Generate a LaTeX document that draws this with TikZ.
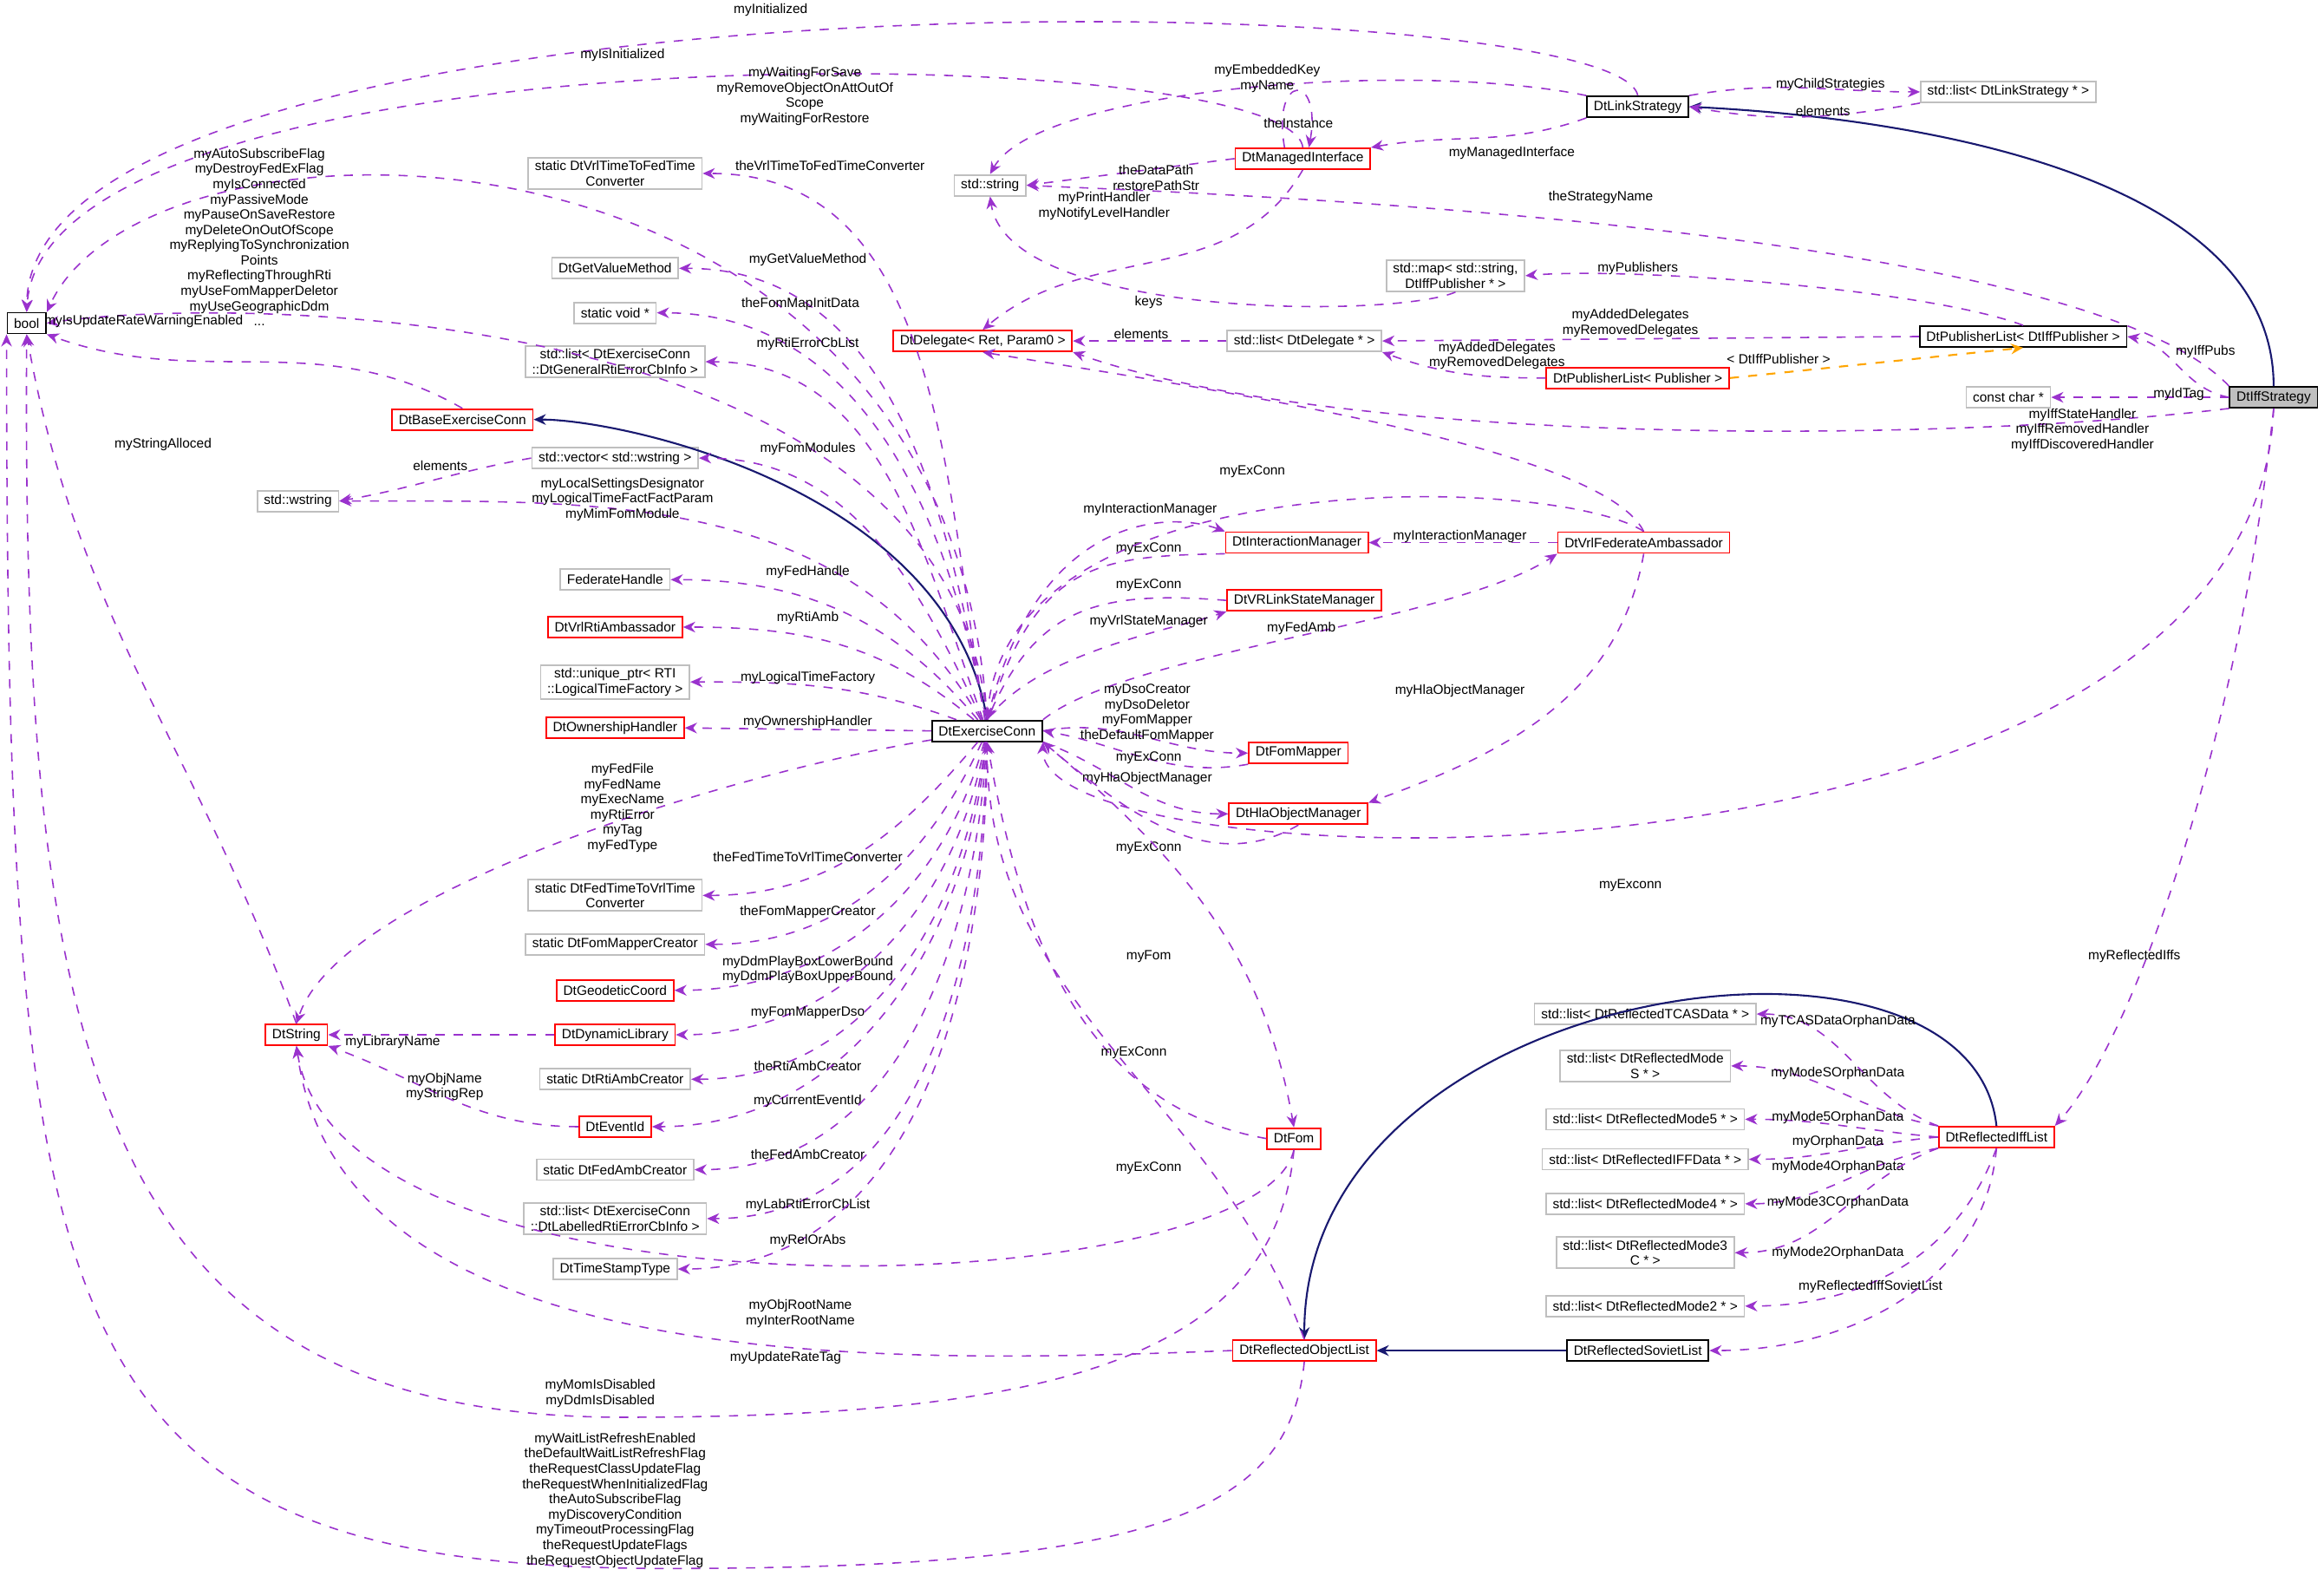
\documentclass[tikz,border=0pt]{standalone}
\usepackage{fontspec}
\setmainfont{Liberation Sans}
\usetikzlibrary{arrows.meta}
\definecolor{usecol}{HTML}{9A32CD}
\definecolor{inhcol}{HTML}{191970}
\definecolor{tplcol}{HTML}{FFA500}
\definecolor{grybox}{HTML}{BFBFBF}
\begin{document}
\begin{tikzpicture}[
    x=0.01709cm, y=-0.01709cm,
    font=\fontsize{4.4}{5.0}\selectfont,
    box/.style={draw,rectangle,inner xsep=2.2pt,inner ysep=1pt,minimum height=0.24cm,align=center,line width=0.5pt},
    blk/.style={box,draw=black},
    red/.style={box,draw=red},
    gry/.style={box,draw=grybox},
    lbl/.style={align=center,inner sep=0pt},
    use/.style={-{Stealth[length=4pt,width=3.5pt]},usecol,dashed,line width=0.45pt},
    inh/.style={-{Stealth[length=4pt,width=3.5pt]},inhcol,line width=0.6pt},
    tpl/.style={-{Stealth[length=4pt,width=3.5pt]},tplcol,dashed,line width=0.6pt}
    ]
    \useasboundingbox (0,0) rectangle (1568,1063);

    % classes
    \node (bool) [blk] at (18,218) {bool};
    \node (linkstr) [blk] at (1105,72) {DtLinkStrategy};
    \node (listlink) [gry] at (1355,62) {std::list< DtLinkStrategy * >};
    \node (mgdif) [red] at (879,107) {DtManagedInterface};
    \node (stdstr) [gry] at (668,125) {std::string};
    \node (vrl2fed) [gry] at (415,117) {static DtVrlTimeToFedTime\\Converter};
    \node (getval) [gry] at (415,181) {DtGetValueMethod};
    \node (voidp) [gry] at (415,211) {static void *};
    \node (genlist) [gry] at (415,244) {std::list< DtExerciseConn\\::DtGeneralRtiErrorCbInfo >};
    \node (baseec) [red] at (312,283) {DtBaseExerciseConn};
    \node (stdmap) [gry] at (982,186) {std::map< std::string,\\DtIffPublisher * >};
    \node (dlg) [red] at (663,230) {DtDelegate< Ret, Param0 >};
    \node (listdlg) [gry] at (880,230) {std::list< DtDelegate * >};
    \node (publiff) [blk] at (1365,227) {DtPublisherList< DtIffPublisher >};
    \node (pubpub) [red] at (1105,255) {DtPublisherList< Publisher >};
    \node (cchar) [gry] at (1355,268) {const char *};
    \node (iffstr) [blk,fill=grybox] at (1534,268) {DtIffStrategy};
    \node (vecws) [gry] at (415,309) {std::vector< std::wstring >};
    \node (wstr) [gry] at (201,338) {std::wstring};
    \node (intmgr) [red] at (875,366) {DtInteractionManager};
    \node (vrlfa) [red] at (1109,366) {DtVrlFederateAmbassador};
    \node (fedh) [gry] at (415,391) {FederateHandle};
    \node (vrlsm) [red] at (880,405) {DtVRLinkStateManager};
    \node (rtiamb) [red] at (415,423) {DtVrlRtiAmbassador};
    \node (uptr) [gry] at (415,460) {std::unique\_ptr< RTI\\::LogicalTimeFactory >};
    \node (ownh) [red] at (415,491) {DtOwnershipHandler};
    \node (ec) [blk] at (666,493) {DtExerciseConn};
    \node (fommap) [red] at (876,508) {DtFomMapper};
    \node (hlaom) [red] at (876,549) {DtHlaObjectManager};
    \node (fed2vrl) [gry] at (415,604) {static DtFedTimeToVrlTime\\Converter};
    \node (fmcreat) [gry] at (415,637) {static DtFomMapperCreator};
    \node (geod) [red] at (415,668) {DtGeodeticCoord};
    \node (dynlib) [red] at (415,698) {DtDynamicLibrary};
    \node (dtstr) [red] at (200,698) {DtString};
    \node (rticreat) [gry] at (415,728) {static DtRtiAmbCreator};
    \node (evid) [red] at (415,760) {DtEventId};
    \node (fedcreat) [gry] at (415,789) {static DtFedAmbCreator};
    \node (lablist) [gry] at (415,822) {std::list< DtExerciseConn\\::DtLabelledRtiErrorCbInfo >};
    \node (tstamp) [gry] at (415,856) {DtTimeStampType};
    \node (fom) [red] at (873,768) {DtFom};
    \node (robj) [red] at (880,911) {DtReflectedObjectList};
    \node (rsov) [blk] at (1105,911) {DtReflectedSovietList};
    \node (riff) [red] at (1347,767) {DtReflectedIffList};
    \node (tcas) [gry] at (1110,684) {std::list< DtReflectedTCASData * >};
    \node (modes) [gry] at (1110,719) {std::list< DtReflectedMode\\S * >};
    \node (mode5) [gry] at (1110,755) {std::list< DtReflectedMode5 * >};
    \node (iffdata) [gry] at (1110,782) {std::list< DtReflectedIFFData * >};
    \node (mode4) [gry] at (1110,812) {std::list< DtReflectedMode4 * >};
    \node (mode3c) [gry] at (1110,845) {std::list< DtReflectedMode3\\C * >};
    \node (mode2) [gry] at (1110,881) {std::list< DtReflectedMode2 * >};

    % inheritance
    \draw[inh] (iffstr.north) .. controls (1534,120) and (1300,80) .. (linkstr.east);
    \draw[inh] (ec.north) .. controls (640,330) and (420,283) .. (baseec.east);
    \draw[inh] (rsov.west) -- (robj.east);
    \draw[inh] (riff.north) .. controls (1330,600) and (880,660) .. (robj.north);
    \draw[tpl] (pubpub.east) -- (publiff.south);

    % members
    \draw[use] (linkstr.north) .. controls (1090,-12) and (20,-25) .. (bool.north);
    \node[lbl] at (520,7) {myInitialized};
    \draw[use] (mgdif.north) .. controls (870,25) and (30,15) .. (bool.north);
    \node[lbl] at (420,37) {myIsInitialized};
    \draw[use] (ec.north) .. controls (640,60) and (100,60) .. (bool.north east);
    \node[lbl] at (543,65) {myWaitingForSave\\myRemoveObjectOnAttOutOf\\Scope\\myWaitingForRestore};
    \draw[use] (ec.north) .. controls (640,200) and (150,200) .. (bool.east);
    \node[lbl] at (175,160) {myAutoSubscribeFlag\\myDestroyFedExFlag\\myIsConnected\\myPassiveMode\\myPauseOnSaveRestore\\myDeleteOnOutOfScope\\myReplyingToSynchronization\\Points\\myReflectingThroughRti\\myUseFomMapperDeletor\\myUseGeographicDdm\\...};
    \draw[use] (baseec.north) to[out=150,in=-20] (bool.south east);
    \node[lbl] at (97,217) {myIsUpdateRateWarningEnabled};
    \draw[use] (dtstr.north) to[out=110,in=-80] (bool.south);
    \node[lbl] at (110,300) {myStringAlloced};
    \draw[use] (robj.south) .. controls (870,1020) and (780,1058) .. (450,1058)
        .. controls (30,1058) and (5,900) .. (bool.south west);
    \node[lbl] at (415,1012) {myWaitListRefreshEnabled\\theDefaultWaitListRefreshFlag\\theRequestClassUpdateFlag\\theRequestWhenInitializedFlag\\theAutoSubscribeFlag\\myDiscoveryCondition\\myTimeoutProcessingFlag\\theRequestUpdateFlags\\theRequestObjectUpdateFlag};
    \draw[use] (fom.south) .. controls (860,920) and (700,956) .. (420,956)
        .. controls (60,956) and (15,700) .. (bool.south);
    \node[lbl] at (405,940) {myMomIsDisabled\\myDdmIsDisabled};

    \draw[use] (linkstr.north east) to[out=10,in=180] (listlink.west);
    \node[lbl] at (1235,57) {myChildStrategies};
    \draw[use] (listlink.south west) to[out=190,in=-10] (linkstr.east);
    \node[lbl] at (1230,75) {elements};
    \draw[use] (linkstr.north west) .. controls (950,40) and (700,60) .. (stdstr.north);
    \node[lbl] at (855,53) {myEmbeddedKey\\myName};
    \draw[use] (linkstr.south west) to[out=200,in=10] (mgdif.north east);
    \node[lbl] at (1020,103) {myManagedInterface};
    \draw[use] ([xshift=-6pt]mgdif.north) to[out=100,in=80,looseness=8] ([xshift=2pt]mgdif.north);
    \node[lbl] at (876,83) {theInstance};
    \draw[use] (mgdif.west) -- (stdstr.east);
    \node[lbl] at (780,120) {theDataPath\\restorePathStr};
    \draw[use] (mgdif.south) to[out=-120,in=40] (dlg.north);
    \node[lbl] at (745,139) {myPrintHandler\\myNotifyLevelHandler};
    \draw[use] (iffstr.north west) .. controls (1400,150) and (800,130) .. (stdstr.east);
    \node[lbl] at (1080,133) {theStrategyName};
    \draw[use] (stdmap.south) .. controls (940,215) and (680,215) .. (stdstr.south);
    \node[lbl] at (775,204) {keys};
    \draw[use] (publiff.north) .. controls (1300,195) and (1100,180) .. (stdmap.east);
    \node[lbl] at (1105,181) {myPublishers};
    \draw[use] (publiff.west) -- (listdlg.east);
    \node[lbl] at (1100,218) {myAddedDelegates\\myRemovedDelegates};
    \draw[use] (pubpub.west) to[out=180,in=-20] (listdlg.south east);
    \node[lbl] at (1010,240) {myAddedDelegates\\myRemovedDelegates};
    \node[lbl] at (1200,242) {< DtIffPublisher >};
    \draw[use] (listdlg.west) -- (dlg.east);
    \node[lbl] at (770,225) {elements};
    \draw[use] (iffstr.west) to[out=170,in=-10] (publiff.east);
    \node[lbl] at (1488,237) {myIffPubs};
    \draw[use] (iffstr.west) -- (cchar.east);
    \node[lbl] at (1470,266) {myIdTag};
    \draw[use] (iffstr.south west) .. controls (1300,300) and (900,300) .. (dlg.south east);
    \node[lbl] at (1405,290) {myIffStateHandler\\myIffRemovedHandler\\myIffDiscoveredHandler};
    \draw[use] (iffstr.south) .. controls (1520,620) and (700,600) .. (ec.south east);
    \node[lbl] at (1100,597) {myExconn};
    \draw[use] (iffstr.south) .. controls (1510,500) and (1440,700) .. (riff.north east);
    \node[lbl] at (1440,645) {myReflectedIffs};

    % exercise connection members
    \draw[use] (ec) to[out=100,in=0] (vrl2fed.east);
    \node[lbl] at (560,112) {theVrlTimeToFedTimeConverter};
    \draw[use] (ec) to[out=100,in=0] (getval.east);
    \node[lbl] at (545,175) {myGetValueMethod};
    \draw[use] (ec) to[out=100,in=0] (voidp.east);
    \node[lbl] at (540,205) {theFomMapInitData};
    \draw[use] (ec) to[out=110,in=0] (genlist.east);
    \node[lbl] at (545,232) {myRtiErrorCbList};
    \draw[use] (ec) to[out=115,in=0] (vecws.east);
    \node[lbl] at (545,303) {myFomModules};
    \draw[use] (ec) to[out=120,in=0] (wstr.east);
    \node[lbl] at (420,337) {myLocalSettingsDesignator\\myLogicalTimeFactFactParam\\myMimFomModule};
    \draw[use] (ec) to[out=130,in=0] (fedh.east);
    \node[lbl] at (545,386) {myFedHandle};
    \draw[use] (ec) to[out=140,in=0] (rtiamb.east);
    \node[lbl] at (545,417) {myRtiAmb};
    \draw[use] (ec) to[out=160,in=0] (uptr.east);
    \node[lbl] at (545,457) {myLogicalTimeFactory};
    \draw[use] (ec.west) -- (ownh.east);
    \node[lbl] at (545,487) {myOwnershipHandler};
    \draw[use] (ec) .. controls (500,520) and (230,600) .. (dtstr.north);
    \node[lbl] at (420,545) {myFedFile\\myFedName\\myExecName\\myRtiError\\myTag\\myFedType};
    \draw[use] (ec) to[out=-130,in=0] (fed2vrl.east);
    \node[lbl] at (545,578) {theFedTimeToVrlTimeConverter};
    \draw[use] (ec) to[out=-115,in=0] (fmcreat.east);
    \node[lbl] at (545,615) {theFomMapperCreator};
    \draw[use] (ec) to[out=-105,in=0] (geod.east);
    \node[lbl] at (545,654) {myDdmPlayBoxLowerBound\\myDdmPlayBoxUpperBound};
    \draw[use] (ec) to[out=-100,in=0] (dynlib.east);
    \node[lbl] at (545,683) {myFomMapperDso};
    \draw[use] (ec) to[out=-97,in=0] (rticreat.east);
    \node[lbl] at (545,719) {theRtiAmbCreator};
    \draw[use] (ec) to[out=-95,in=0] (evid.east);
    \node[lbl] at (545,743) {myCurrentEventId};
    \draw[use] (ec) to[out=-93,in=0] (fedcreat.east);
    \node[lbl] at (545,779) {theFedAmbCreator};
    \draw[use] (ec) to[out=-91,in=0] (lablist.east);
    \node[lbl] at (545,813) {myLabRtiErrorCbList};
    \draw[use] (ec) to[out=-90,in=0] (tstamp.east);
    \node[lbl] at (545,837) {myRelOrAbs};

    \draw[use] (vecws.west) to[out=190,in=10] (wstr.east);
    \node[lbl] at (297,314) {elements};
    \draw[use] (dynlib.west) to[out=180,in=0] (dtstr.east);
    \node[lbl] at (265,703) {myLibraryName};
    \draw[use] (evid.west) to[out=180,in=-20] (dtstr.south east);
    \node[lbl] at (300,733) {myObjName\\myStringRep};
    \draw[use] (fom.south) .. controls (850,880) and (230,900) .. (dtstr.south);
    \node[lbl] at (540,886) {myObjRootName\\myInterRootName};
    \draw[use] (robj.west) .. controls (600,920) and (230,930) .. (dtstr.south);
    \node[lbl] at (530,916) {myUpdateRateTag};

    % managers
    \draw[use] (ec.north) .. controls (700,345) and (790,345) .. (intmgr.north west);
    \node[lbl] at (776,344) {myInteractionManager};
    \draw[use] (intmgr.south west) .. controls (740,375) and (700,380) .. (ec.north);
    \node[lbl] at (775,370) {myExConn};
    \draw[use] (vrlsm.west) .. controls (740,398) and (700,410) .. (ec.north);
    \node[lbl] at (775,395) {myExConn};
    \draw[use] (ec.north) .. controls (700,440) and (790,425) .. (vrlsm.south west);
    \node[lbl] at (775,419) {myVrlStateManager};
    \draw[use] (vrlfa.north) .. controls (1050,320) and (680,310) .. (ec.north);
    \node[lbl] at (845,318) {myExConn};
    \draw[use] (ec.north east) .. controls (760,440) and (980,420) .. (vrlfa.south west);
    \node[lbl] at (878,424) {myFedAmb};
    \draw[use] (vrlfa.west) -- (intmgr.east);
    \node[lbl] at (985,362) {myInteractionManager};
    \draw[use] (vrlfa.north) .. controls (1080,300) and (800,260) .. (dlg.south);
    \draw[use] (vrlfa.south) to[out=-100,in=20] (hlaom.north east);
    \node[lbl] at (985,466) {myHlaObjectManager};
    \draw[use] (ec.east) to[out=10,in=180] (fommap.west);
    \node[lbl] at (774,481) {myDsoCreator\\myDsoDeletor\\myFomMapper\\theDefaultFomMapper};
    \draw[use] (fommap.south west) to[out=190,in=-10] (ec.east);
    \node[lbl] at (775,511) {myExConn};
    \draw[use] (ec.south east) to[out=-20,in=180] (hlaom.west);
    \node[lbl] at (774,525) {myHlaObjectManager};
    \draw[use] (hlaom.south) to[out=-150,in=-40] (ec.south east);
    \node[lbl] at (775,572) {myExConn};
    \draw[use] (ec.south east) to[out=-40,in=100] (fom.north);
    \node[lbl] at (775,645) {myFom};
    \draw[use] (fom.west) to[out=170,in=-80] (ec.south);
    \node[lbl] at (765,710) {myExConn};
    \draw[use] (robj.north) to[out=110,in=-90] (ec.south);
    \node[lbl] at (775,788) {myExConn};

    % reflected iff list members
    \draw[use] (riff.north west) to[out=160,in=0] (tcas.east);
    \node[lbl] at (1240,689) {myTCASDataOrphanData};
    \draw[use] (riff.north west) to[out=170,in=0] (modes.east);
    \node[lbl] at (1240,724) {myModeSOrphanData};
    \draw[use] (riff.west) to[out=175,in=0] (mode5.east);
    \node[lbl] at (1240,754) {myMode5OrphanData};
    \draw[use] (riff.west) to[out=185,in=0] (iffdata.east);
    \node[lbl] at (1240,770) {myOrphanData};
    \draw[use] (riff.south west) to[out=190,in=0] (mode4.east);
    \node[lbl] at (1240,787) {myMode4OrphanData};
    \draw[use] (riff.south west) to[out=200,in=0] (mode3c.east);
    \node[lbl] at (1240,811) {myMode3COrphanData};
    \draw[use] (riff.south) to[out=-110,in=0] (mode2.east);
    \node[lbl] at (1240,845) {myMode2OrphanData};
    \draw[use] (riff.south) to[out=-95,in=0] (rsov.east);
    \node[lbl] at (1262,868) {myReflectedIffSovietList};

  \end{tikzpicture}
\end{document}
